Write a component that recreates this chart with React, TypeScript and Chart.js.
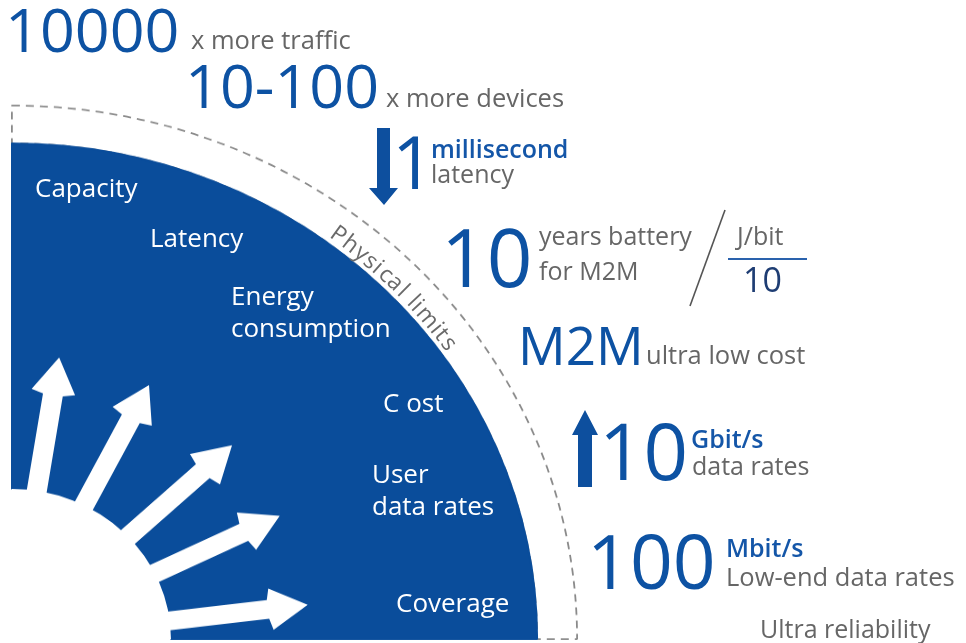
import React, { useEffect, useRef } from "react";
import { Chart, registerables } from "chart.js";

Chart.register(...registerables);

// ---------- data ----------
// Quarter-disc rings, outer -> inner (radial thickness in px of the 565px radius)
const ringNames = ["Physical limits", "5G capability", "Today"];
const ringThickness = [40, 367, 158];
const ringFill = ["#ffffff", "#0a4d9b", "#ffffff"];
const ringBorder = ["#8a8a8a", "#0a4d9b", "#ffffff"];
const ringBorderWidth = [1.8, 2, 2];
const ringDash: number[][] = [[8, 6], [], []];
const ringOrder = [2, 1, 0];

// White arrows radiating from the inner disc: angle from vertical (deg), tip radius (px)
const arrowAngles = [9, 27, 47, 64, 83];
const arrowTips = [302, 302, 301, 298, 298];

// Requirement labels inside the blue quarter
const requirementLabels = ["Capacity", "Latency", "Energy", "consumption", "C ost", "User", "data rates", "Coverage"];

// Key figures on the right
const figureValues = ["10000", "10-100", "1", "10", "M2M", "10", "100"];
const figureUnits = ["", "", "millisecond", "", "", "Gbit/s", "Mbit/s"];
const figureCaptions = ["x more traffic", "x more devices", "latency", "years battery", "for M2M", "ultra low cost", "data rates", "Low-end data rates", "Ultra reliability"];
const fractionTop = "J/bit";
const fractionBottom = "10";
const curveText = "Physical limits";

// ---------- styling ----------
const FONT = "'Open Sans', 'Noto Sans', sans-serif";
const BIG = "#0d52a3";
const GRAY = "#666666";
const UNIT = "#1456a8";
const STRETCH = 0.944;
const CX = 12;
const CY = 639;

function T(props: { x: number; b: number; s: number; c: string; w?: number; children: any }) {
  const { x, b, s, c, w = 400, children } = props;
  return (
    <div
      style={{
        position: "absolute",
        left: x,
        top: b - 0.888 * s,
        fontSize: s,
        lineHeight: 1,
        color: c,
        fontWeight: w,
        fontFamily: FONT,
        whiteSpace: "pre",
      }}
    >
      {children}
    </div>
  );
}

function CurvedText() {
  const fs = 23;
  const c = document.createElement("canvas").getContext("2d") as CanvasRenderingContext2D;
  c.font = `${fs}px 'Open Sans'`;
  const chars = curveText.split("");
  const widths = chars.map((ch) => c.measureText(ch).width);
  const total = widths.reduce((a, b) => a + b, 0);
  const rBase = 530;
  const a0 = (36.6 * Math.PI) / 180;
  const a1 = (55.0 * Math.PI) / 180;
  const arc = rBase * (a1 - a0);
  const extra = (arc - total) / (chars.length - 1);
  let s = 0;
  return (
    <>
      {chars.map((ch, i) => {
        const mid = s + widths[i] / 2;
        s += widths[i] + extra;
        const phi = a0 + mid / rBase;
        const px = CX + rBase * Math.sin(phi);
        const py = CY - STRETCH * rBase * Math.cos(phi);
        const rot = (Math.atan2(STRETCH * Math.sin(phi), Math.cos(phi)) * 180) / Math.PI;
        return (
          <span
            key={i}
            style={{
              position: "absolute",
              left: px,
              top: py,
              transformOrigin: "0 0",
              transform: `rotate(${rot}deg) translate(${-widths[i] / 2}px, ${-0.888 * fs}px)`,
              fontSize: fs,
              lineHeight: 1,
              fontFamily: FONT,
              color: "#6a6a6a",
              whiteSpace: "pre",
            }}
          >
            {ch}
          </span>
        );
      })}
    </>
  );
}

const arrowPlugin = {
  id: "radialArrows",
  afterDatasetsDraw(chart: any) {
    const meta = chart.getDatasetMeta(2);
    const arc = meta.data[0];
    if (!arc) return;
    const { x, y, outerRadius } = arc.getProps(["x", "y", "outerRadius"], true);
    const ctx = chart.ctx as CanvasRenderingContext2D;
    ctx.save();
    ctx.fillStyle = "#ffffff";
    arrowAngles.forEach((deg, i) => {
      const th = (deg * Math.PI) / 180;
      const ux = Math.sin(th);
      const uy = -Math.cos(th);
      const nx = -uy;
      const ny = ux;
      const r0 = outerRadius - 25;
      const r1 = arrowTips[i];
      const hl = 40;
      const sw = 10;
      const hw = 22;
      const pt = (r: number, w: number): [number, number] => [x + ux * r + nx * w, y + uy * r + ny * w];
      const pts = [pt(r0, -sw), pt(r1 - hl, -sw), pt(r1 - hl + 3, -hw), pt(r1, 0), pt(r1 - hl + 3, hw), pt(r1 - hl, sw), pt(r0, sw)];
      ctx.beginPath();
      ctx.moveTo(pts[0][0], pts[0][1]);
      for (let k = 1; k < pts.length; k++) ctx.lineTo(pts[k][0], pts[k][1]);
      ctx.closePath();
      ctx.fill();
    });
    ctx.restore();
  },
};

function QuarterChart() {
  const ref = useRef<HTMLCanvasElement | null>(null);
  useEffect(() => {
    if (!ref.current) return;
    const chart = new Chart(ref.current, {
      type: "pie",
      data: {
        labels: ["quarter"],
        datasets: ringNames.map((name, i) => ({
          label: name,
          data: [1],
          weight: ringThickness[i],
          backgroundColor: ringFill[i],
          borderColor: ringBorder[i],
          borderWidth: ringBorderWidth[i],
          borderDash: ringDash[i],
          borderAlign: "center",
          order: ringOrder[i],
          hoverOffset: 0,
        })) as any,
      },
      options: {
        responsive: false,
        animation: false,
        circumference: 90,
        rotation: 0,
        events: [],
        layout: { padding: 0 },
        plugins: { legend: { display: false }, tooltip: { enabled: false } },
      } as any,
      plugins: [arrowPlugin],
    });
    return () => chart.destroy();
  }, []);
  return (
    <div
      style={{
        position: "absolute",
        left: CX - 0.9,
        top: CY - 566.1,
        width: 567,
        height: 567,
        transform: `scaleY(${STRETCH})`,
        transformOrigin: "0.9px 566.1px",
      }}
    >
      <canvas ref={ref} width={567} height={567} style={{ display: "block" }} />
    </div>
  );
}

export default function App() {
  return (
    <div
      style={{
        position: "fixed",
        left: 0,
        top: 0,
        width: 966,
        height: 643,
        overflow: "hidden",
        background: "#ffffff",
      }}
    >
      <QuarterChart />

      <svg width={966} height={643} style={{ position: "absolute", left: 0, top: 0, pointerEvents: "none" }}>
        {/* down arrow (latency) */}
        <polygon points="377,128 390,128 390,188 398,188 384,205 369,188 377,188" fill="#0d4f9e" />
        {/* up arrow (data rates) */}
        <polygon points="578,487 592,487 592,435 598,435 585,410 572,435 578,435" fill="#0d4f9e" />
        {/* slash */}
        <line x1={725} y1={210} x2={690} y2={306} stroke="#555555" strokeWidth={1.6} />
        {/* fraction bar */}
        <line x1={728} y1={259} x2={807} y2={259} stroke="#2a62ad" strokeWidth={2} />
      </svg>

      {/* labels inside the blue quarter */}
      <T x={35} b={197} s={26} c="#ffffff">{requirementLabels[0]}</T>
      <T x={150} b={247} s={26} c="#ffffff">{requirementLabels[1]}</T>
      <T x={231} b={305} s={26} c="#ffffff">{requirementLabels[2]}</T>
      <T x={231} b={337} s={26} c="#ffffff">{requirementLabels[3]}</T>
      <T x={383} b={412} s={26} c="#ffffff">{requirementLabels[4]}</T>
      <T x={372} b={483} s={26} c="#ffffff">{requirementLabels[5]}</T>
      <T x={372} b={515} s={26} c="#ffffff">{requirementLabels[6]}</T>
      <T x={396} b={612} s={26} c="#ffffff">{requirementLabels[7]}</T>

      <CurvedText />

      {/* key figures */}
      <T x={5} b={52} s={61} c={BIG}>{figureValues[0]}</T>
      <T x={191} b={50} s={25.5} c={GRAY}>{figureCaptions[0]}</T>

      <T x={185} b={108} s={61} c={BIG}>{figureValues[1]}</T>
      <T x={386} b={108} s={25.5} c={GRAY}>{figureCaptions[1]}</T>

      <T x={392} b={190} s={74} c={BIG}>{figureValues[2]}</T>
      <T x={431} b={158} s={25} c={UNIT} w={600}>{figureUnits[2]}</T>
      <T x={431} b={183} s={25} c={GRAY}>{figureCaptions[2]}</T>

      <T x={441} b={287} s={80} c={BIG}>{figureValues[3]}</T>
      <T x={539} b={245} s={25} c={GRAY}>{figureCaptions[3]}</T>
      <T x={539} b={280} s={25} c={GRAY}>{figureCaptions[4]}</T>
      <T x={737} b={245} s={25} c={GRAY}>{fractionTop}</T>
      <T x={743} b={292} s={34} c="#1e3d73" w={500}>{fractionBottom}</T>

      <T x={518} b={365} s={53} c={BIG}>{figureValues[4]}</T>
      <T x={646} b={365} s={25.5} c={GRAY}>{figureCaptions[5]}</T>

      <T x={599} b={480} s={78} c={BIG}>{figureValues[5]}</T>
      <T x={691} b={448} s={25} c={UNIT} w={600}>{figureUnits[5]}</T>
      <T x={692} b={475} s={25} c={GRAY}>{figureCaptions[6]}</T>

      <T x={587} b={590} s={75} c={BIG}>{figureValues[6]}</T>
      <T x={726} b={557} s={25} c={UNIT} w={600}>{figureUnits[6]}</T>
      <T x={726} b={587} s={25.5} c={GRAY}>{figureCaptions[7]}</T>

      <T x={760} b={638} s={25} c={GRAY}>{figureCaptions[8]}</T>
    </div>
  );
}
